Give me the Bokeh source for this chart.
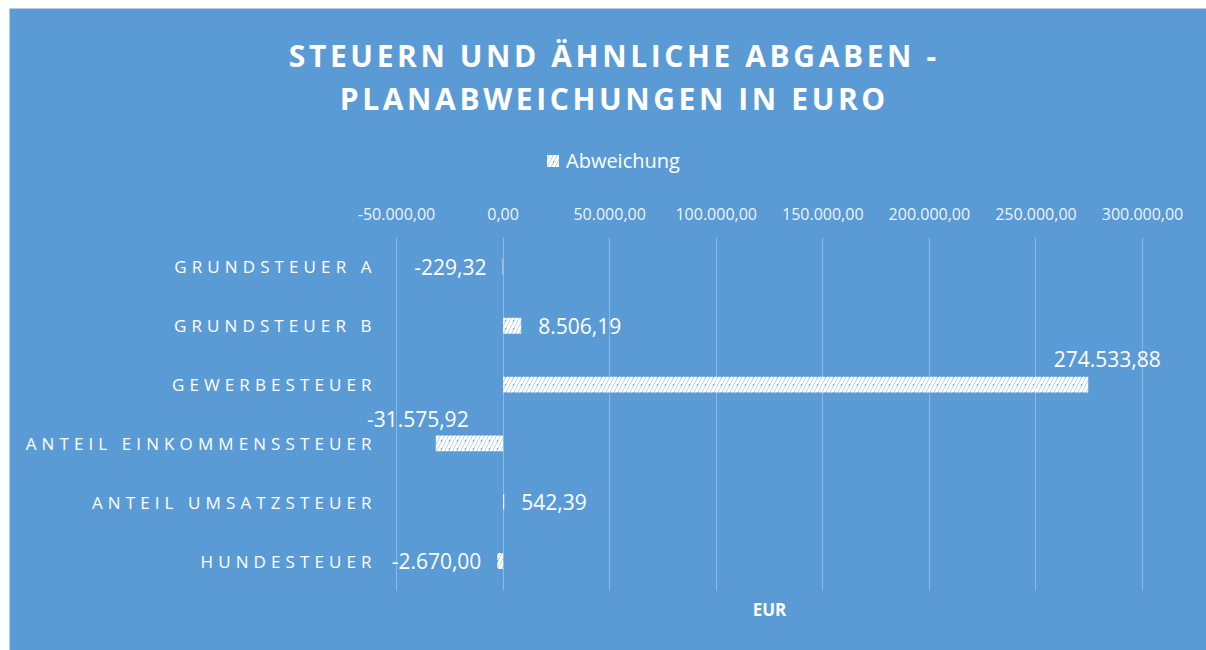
from bokeh.plotting import figure
from bokeh.layouts import column
from bokeh.models import (ColumnDataSource, Range1d, FixedTicker, Grid,
                          Label, LabelSet, Legend, LegendItem)
from bokeh.core.properties import value
from bokeh.embed import file_html
from bokeh.resources import INLINE

# ---- data ----
categories = ["GRUNDSTEUER A", "GRUNDSTEUER B", "GEWERBESTEUER",
              "ANTEIL EINKOMMENSSTEUER", "ANTEIL UMSATZSTEUER", "HUNDESTEUER"]
abweichung = [-229.32, 8506.19, 274533.88, -31575.92, 542.39, -2670.00]
x_ticks = [-50000, 0, 50000, 100000, 150000, 200000, 250000, 300000]
x_tick_labels = ["-50.000,00", "0,00", "50.000,00", "100.000,00", "150.000,00",
                 "200.000,00", "250.000,00", "300.000,00"]
series_name = "Abweichung"
title_lines = ["STEUERN UND ÄHNLICHE ABGABEN -", "PLANABWEICHUNGEN IN EURO"]
axis_title = "EUR"

# ---- label placement (style) ----
lbl_dx = [-16, 17, 19, -18, 17, -16]
lbl_dy = [0, 0, 26, 24, 0, 0]
lbl_align = ["right", "left", "center", "center", "left", "right"]


def de_fmt(v):
    s = f"{v:,.2f}"
    return s.replace(",", "X").replace(".", ",").replace("X", ".")


BG = "#5B9BD5"
FONT = "Open Sans"
W, H = 1197, 642
MARGIN = (8, 0, 0, 9)
AREA_TOP, AREA_BOTTOM = 229, 582
PX_FIRST, PX_LAST = 387, 1133          # canvas x of first / last tick
LS_TITLE = 3.6                          # letter spacing (px)
LS_CAT = 5.1

n = len(categories)
y_pos = list(range(n))                 # 0 = first category (top)
band = (AREA_BOTTOM - AREA_TOP) / n
y_top = -0.5 - AREA_TOP / band
y_bottom = (H - AREA_TOP) / band - 0.5
ppu = (PX_LAST - PX_FIRST) / (x_ticks[-1] - x_ticks[0])
x_range = Range1d(x_ticks[0] - PX_FIRST / ppu, x_ticks[-1] + (W - PX_LAST) / ppu)
y_range = Range1d(start=y_bottom, end=y_top)

src = ColumnDataSource(dict(
    y=y_pos, val=abweichung,
    txt=[de_fmt(v) for v in abweichung],
    dx=lbl_dx, dy=lbl_dy, al=lbl_align,
))
cat_src = ColumnDataSource(dict(
    y=y_pos, cat=categories, x=[x_ticks[0]] * n,
    dx=[-25 - (len(c) - 1) * LS_CAT for c in categories],
))
tick_src = ColumnDataSource(dict(x=x_ticks, y=[-0.5] * len(x_ticks), t=x_tick_labels))


def make_fig(**kw):
    f = figure(width=W, height=H, output_backend="svg", toolbar_location=None,
               title=None, x_range=x_range, y_range=y_range,
               x_axis_location=None, y_axis_location=None,
               min_border=0, margin=MARGIN, **kw)
    f.outline_line_color = None
    f.center = []
    return f


base = make_fig()
base.background_fill_color = BG
base.border_fill_color = BG

# vertical grid lines at the ticks, spanning only the category area
grid = Grid(dimension=0, ticker=FixedTicker(ticks=x_ticks),
            grid_line_color="white", grid_line_alpha=0.3, grid_line_width=1)
if "cross_bounds" in Grid.properties():
    grid.cross_bounds = (-0.5, n - 0.5)
    base.add_layout(grid)
else:
    base.segment(x0=x_ticks, x1=x_ticks, y0=[-0.5] * len(x_ticks),
                 y1=[n - 0.5] * len(x_ticks), line_color="white",
                 line_alpha=0.3, line_width=1)

bars = base.hbar(y="y", right="val", left=0, height=0.27, source=src,
                 fill_alpha=0, line_color=None,
                 hatch_pattern="/", hatch_color="white", hatch_weight=3.2,
                 hatch_scale=8)

# tick labels (top)
base.text(x="x", y="y", text="t", source=tick_src, y_offset=-24,
          text_align="center", text_baseline="middle", text_color="white",
          text_alpha=0.92, text_font=value(FONT), text_font_size="16px")

# data labels
base.add_layout(LabelSet(x="val", y="y", text="txt", source=src,
                         x_offset="dx", y_offset="dy", text_align="al",
                         text_baseline="middle", text_color="white",
                         text_font=value(FONT), text_font_size="21px"))

# axis title below the category area, centred on the tick span
base.add_layout(Label(x=(x_ticks[0] + x_ticks[-1]) / 2, y=n - 0.5, y_offset=-19,
                      text=axis_title, text_align="center", text_baseline="middle",
                      text_color="white", text_font=FONT, text_font_style="bold",
                      text_font_size="17px"))

# legend
legend = Legend(items=[LegendItem(label=series_name, renderers=[bars])],
                location=(536, H - 166), orientation="horizontal",
                background_fill_alpha=0, border_line_color=None,
                padding=0, margin=0, glyph_width=15, glyph_height=15,
                label_standoff=6, label_height=12, label_text_color="white",
                label_text_font=FONT, label_text_font_size="20px")
base.add_layout(legend, "center")

# ---- transparent overlays carrying the letter-spaced texts ----
overlay_style = {"position": "absolute", "top": "0px", "left": "0px"}

over_cat = make_fig(styles=dict(overlay_style, **{"letter-spacing": f"{LS_CAT}px"}))
over_cat.background_fill_alpha = 0
over_cat.border_fill_alpha = 0
over_cat.text(x="x", y="y", text="cat", source=cat_src, x_offset="dx",
              text_align="right", text_baseline="middle", text_color="white",
              text_font=value(FONT), text_font_size="17px")

over_title = make_fig(styles=dict(overlay_style, **{"letter-spacing": f"{LS_TITLE}px"}))
over_title.background_fill_alpha = 0
over_title.border_fill_alpha = 0
for i, line in enumerate(title_lines):
    over_title.add_layout(Label(x=603 - (len(line) - 1) * LS_TITLE / 2,
                                y=H - 47 - 43 * i, x_units="screen", y_units="screen",
                                text=line, text_align="center", text_baseline="middle",
                                text_color="white", text_font=FONT,
                                text_font_style="bold", text_font_size="30px"))

p = column(base, over_cat, over_title, spacing=0)

open("out.html", "w").write(file_html(p, INLINE))
